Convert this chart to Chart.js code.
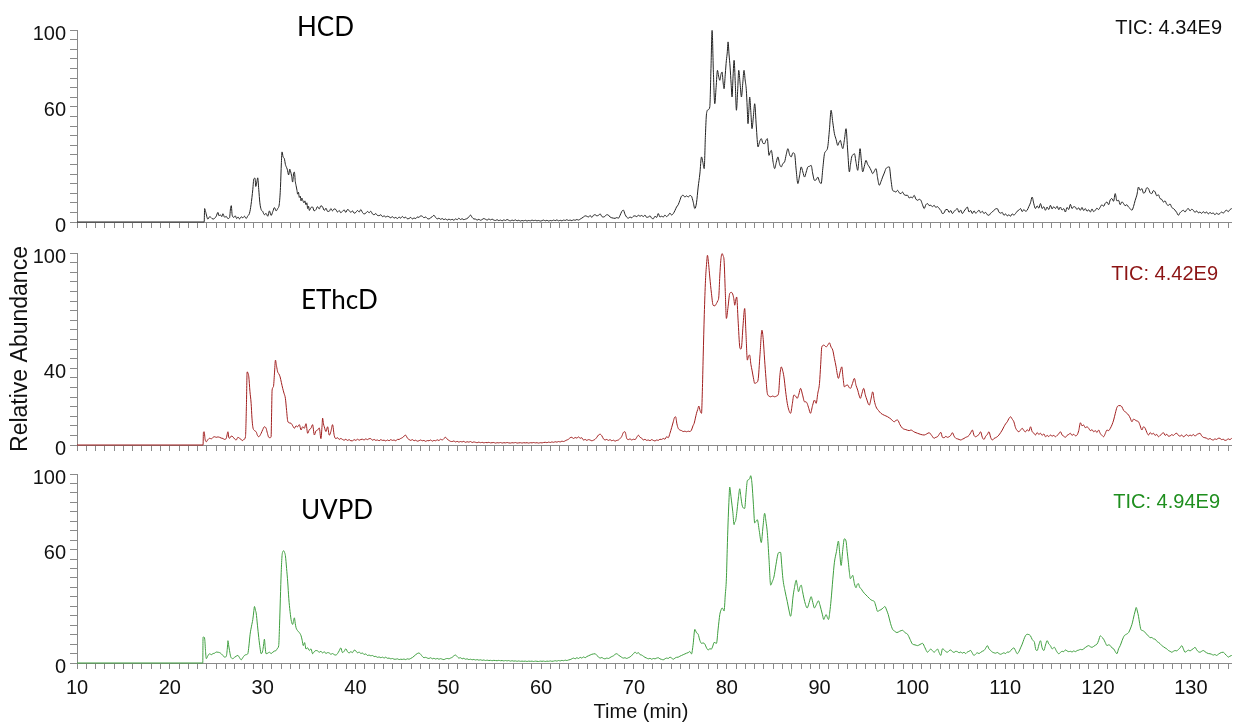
<!DOCTYPE html>
<html>
<head>
<meta charset="utf-8">
<title>Total ion chromatograms: HCD, EThcD, UVPD</title>
<script src="https://cdn.jsdelivr.net/npm/chart.js@4.4.1/dist/chart.umd.min.js"></script>
<style>
  html, body { margin: 0; padding: 0; background: #ffffff; }
  #wrap { position: relative; width: 1235px; height: 722px; overflow: hidden; }
  #wrap canvas { position: absolute; left: 0; }
</style>
</head>
<body>
<div id="wrap">
  <canvas id="hcdChart" width="1235" height="240" style="top:0px"></canvas>
  <canvas id="ethcdChart" width="1235" height="240" style="top:230px"></canvas>
  <canvas id="uvpdChart" width="1235" height="262" style="top:460px"></canvas>
</div>
<script>
// Retention time range (min)
const timeMin = 10;
const timeMax = 134.4;

// Labelled ticks
const timeTickLabels = [10, 20, 30, 40, 50, 60, 70, 80, 90, 100, 110, 120, 130];
const hcdAbundanceLabels = [0, 60, 100];
const ethcdAbundanceLabels = [0, 40, 100];
const uvpdAbundanceLabels = [0, 60, 100];

// Panel captions and total ion current
const fragmentationNames = ['HCD', 'EThcD', 'UVPD'];
const ticValues = ['TIC: 4.34E9', 'TIC: 4.42E9', 'TIC: 4.94E9'];

// HCD trace: [time (min), relative abundance (%)]
const hcdTrace = [
[10,0],[23.70,0],[23.75,7.0],[23.85,5.5],[24.10,1.5],[24.30,2.8],[24.47,2.2],[24.65,1.5],[24.82,1.9],[25.00,3.0],
[25.18,5.0],[25.30,3.2],[25.43,3.8],[25.60,2.8],[25.72,4.3],[25.90,2.5],[26.08,2.9],[26.25,1.8],[26.43,2.2],[26.55,7.5],
[26.62,8.5],[26.72,3.5],[26.90,2.4],[27.05,3.2],[27.20,1.8],[27.35,2.6],[27.51,1.6],[27.70,2.7],[27.86,2.2],[28.05,3.0],
[28.22,1.8],[28.40,3.2],[28.58,4.5],[28.75,9.0],[28.94,17.0],[29.05,22.5],[29.18,22.8],[29.26,18.5],[29.38,21.0],[29.47,23.0],
[29.58,17.0],[29.70,10.0],[29.84,6.5],[30.01,5.5],[30.18,3.8],[30.37,4.5],[30.55,3.0],[30.73,5.8],[30.91,3.4],[31.10,5.5],
[31.27,7.5],[31.45,5.8],[31.62,7.0],[31.80,9.6],[31.92,18.0],[32.02,31.0],[32.09,36.5],[32.20,34.0],[32.34,33.0],[32.45,30.0],
[32.52,29.0],[32.65,27.5],[32.80,24.5],[32.92,27.5],[33.00,26.5],[33.12,24.0],[33.23,20.8],[33.34,25.5],[33.42,26.0],[33.52,21.0],
[33.60,19.0],[33.70,16.5],[33.77,14.5],[33.86,15.5],[33.95,12.8],[34.05,13.5],[34.14,11.0],[34.22,12.5],[34.31,11.5],[34.45,10.0],
[34.55,11.0],[34.67,9.0],[34.76,10.0],[34.85,7.0],[34.95,8.2],[35.03,6.0],[35.20,7.5],[35.38,7.8],[35.55,5.8],[35.75,6.5],
[35.90,8.0],[36.10,6.8],[36.28,8.5],[36.46,7.8],[36.65,6.0],[36.82,7.2],[37.00,5.5],[37.18,5.6],[37.35,7.0],[37.52,5.8],
[37.70,6.8],[37.89,6.5],[38.05,5.2],[38.25,6.0],[38.42,4.8],[38.60,5.6],[38.78,6.3],[38.96,5.0],[39.14,6.5],[39.32,6.0],
[39.50,5.0],[39.68,5.8],[39.86,4.6],[40.04,5.0],[40.22,6.0],[40.40,5.2],[40.58,6.5],[40.75,5.0],[40.93,4.2],[41.11,4.6],
[41.30,5.5],[41.47,4.8],[41.65,5.6],[41.83,4.2],[42.01,3.8],[42.19,4.4],[42.37,3.4],[42.55,3.3],[42.73,3.8],[42.91,2.8],
[43.09,3.2],[43.26,2.6],[43.44,3.0],[43.62,2.7],[43.80,2.2],[43.98,2.8],[44.16,2.0],[44.34,2.4],[44.52,1.8],[44.70,2.6],
[44.87,2.0],[45.05,2.9],[45.23,2.1],[45.41,2.5],[45.59,1.7],[45.77,1.8],[45.95,2.4],[46.13,1.6],[46.31,2.1],[46.49,1.8],
[46.66,2.6],[46.84,2.4],[47.02,3.2],[47.20,3.0],[47.38,2.2],[47.56,2.6],[47.74,1.8],[47.92,1.6],[48.10,2.2],[48.28,2.8],
[48.45,3.5],[48.63,2.4],[48.81,1.6],[48.99,2.0],[49.17,1.4],[49.35,1.8],[49.53,1.2],[49.71,1.6],[49.89,1.0],[50.07,1.5],
[50.24,1.1],[50.42,1.4],[50.60,0.9],[50.78,1.6],[50.96,1.2],[51.14,2.0],[51.31,1.3],[51.49,1.7],[51.67,1.2],[51.85,1.5],
[52.03,1.8],[52.21,2.6],[52.40,3.6],[52.57,2.4],[52.75,1.6],[52.93,1.5],[53.11,1.0],[53.29,1.4],[53.47,0.9],[53.65,1.3],
[53.83,1.8],[54.01,1.4],[54.19,1.0],[54.37,1.6],[54.55,1.1],[54.72,1.5],[54.90,1.0],[55.08,0.8],[55.26,1.2],[55.44,0.7],
[55.62,1.0],[55.80,0.6],[55.98,1.1],[56.16,0.8],[56.33,1.3],[56.51,0.9],[56.69,0.6],[56.87,1.0],[57.05,0.7],[57.23,1.1],
[57.41,0.6],[57.59,0.9],[57.77,0.5],[57.94,0.8],[58.12,0.6],[58.30,0.9],[58.48,0.5],[58.66,0.8],[58.84,0.6],[59.02,1.0],
[59.20,0.7],[59.38,0.9],[59.55,0.6],[59.73,0.8],[59.91,0.5],[60.09,0.7],[60.27,1.0],[60.45,0.6],[60.63,0.9],[60.81,0.5],
[60.99,0.8],[61.16,0.6],[61.34,1.0],[61.52,0.7],[61.70,1.1],[61.88,0.6],[62.06,0.9],[62.24,0.6],[62.42,1.0],[62.60,0.8],
[62.77,1.2],[62.95,0.8],[63.13,1.0],[63.31,0.7],[63.49,1.1],[63.67,0.9],[63.85,1.3],[64.03,1.0],[64.21,1.5],[64.38,2.0],
[64.56,2.6],[64.75,3.2],[64.92,3.0],[65.10,2.6],[65.28,3.4],[65.46,2.4],[65.64,3.5],[65.82,3.8],[66.00,3.2],[66.18,3.5],
[66.36,4.2],[66.54,2.9],[66.72,2.6],[66.89,3.0],[67.07,3.8],[67.25,3.6],[67.43,2.6],[67.61,2.2],[67.79,2.0],[67.97,1.9],
[68.15,2.3],[68.33,2.0],[68.51,3.5],[68.69,5.5],[68.86,6.2],[69.04,4.0],[69.22,2.5],[69.40,2.0],[69.58,2.6],[69.76,2.2],
[69.94,3.0],[70.12,3.2],[70.30,2.8],[70.48,3.5],[70.66,3.0],[70.83,3.4],[71.01,2.8],[71.19,3.6],[71.37,2.4],[71.55,2.6],
[71.73,3.2],[71.91,2.0],[72.09,1.7],[72.27,3.0],[72.45,2.4],[72.62,4.4],[72.80,2.6],[72.98,3.0],[73.16,2.6],[73.34,3.6],
[73.52,2.8],[73.70,3.5],[73.88,4.6],[74.06,3.6],[74.24,4.4],[74.42,6.0],[74.59,7.8],[74.77,9.0],[74.95,11.3],[75.13,13.5],
[75.31,13.9],[75.49,13.0],[75.67,13.6],[75.85,13.0],[76.02,13.8],[76.20,13.4],[76.38,10.5],[76.56,7.0],[76.74,10.0],[76.92,18.2],
[77.10,25.0],[77.28,33.9],[77.43,31.0],[77.57,27.8],[77.70,45.0],[77.82,56.4],[78.00,58.5],[78.17,59.9],[78.30,80.0],[78.42,99.8],
[78.56,78.0],[78.71,61.6],[78.85,70.0],[79.00,79.0],[79.12,76.0],[79.25,73.8],[79.38,77.0],[79.50,78.1],[79.60,73.0],[79.71,69.4],
[79.84,77.0],[79.96,84.2],[80.05,88.0],[80.14,93.8],[80.25,87.0],[80.36,80.7],[80.47,72.0],[80.57,65.1],[80.68,76.0],[80.79,84.2],
[80.92,72.0],[81.04,58.2],[81.17,68.0],[81.29,79.0],[81.44,72.0],[81.58,65.1],[81.72,72.0],[81.86,79.0],[81.98,74.0],[82.11,68.6],
[82.20,60.0],[82.29,51.2],[82.38,58.0],[82.47,65.1],[82.60,57.0],[82.72,48.6],[82.87,55.0],[83.01,61.6],[83.18,50.0],[83.37,39.1],
[83.55,42.0],[83.72,43.4],[83.90,41.0],[84.08,40.8],[84.22,42.5],[84.37,43.4],[84.55,34.7],[84.68,36.5],[84.80,37.3],[85.00,31.0],
[85.16,27.8],[85.33,31.0],[85.51,33.9],[85.70,30.0],[85.87,28.7],[86.05,30.5],[86.23,31.3],[86.40,35.0],[86.59,38.2],[86.77,35.0],
[86.95,33.9],[87.12,36.0],[87.30,35.6],[87.48,27.0],[87.66,20.0],[87.84,24.0],[88.02,28.7],[88.20,26.0],[88.38,23.4],[88.56,26.0],
[88.74,28.7],[88.91,29.0],[89.09,29.5],[89.27,25.0],[89.45,21.7],[89.63,22.0],[89.81,23.4],[89.99,21.0],[90.17,20.0],[90.35,28.0],
[90.53,35.6],[90.70,37.0],[90.88,39.1],[91.06,48.0],[91.24,58.2],[91.42,52.0],[91.60,46.0],[91.78,43.0],[91.96,39.9],[92.10,41.5],
[92.24,42.5],[92.37,40.0],[92.50,38.2],[92.68,43.0],[92.85,48.6],[93.03,37.0],[93.21,26.1],[93.33,30.0],[93.46,33.9],[93.60,35.0],
[93.75,35.6],[93.93,31.0],[94.11,26.9],[94.23,32.0],[94.36,38.2],[94.50,32.0],[94.64,26.1],[94.82,29.0],[95.00,32.1],[95.18,30.0],
[95.36,28.7],[95.54,27.0],[95.72,25.2],[95.90,26.5],[96.08,27.8],[96.25,23.0],[96.43,19.1],[96.61,21.0],[96.79,23.4],[96.97,25.5],
[97.15,27.8],[97.33,28.5],[97.51,28.7],[97.69,22.0],[97.87,16.5],[98.05,16.0],[98.22,15.6],[98.40,16.5],[98.58,15.2],[98.76,14.8],
[98.94,15.6],[99.12,14.2],[99.30,13.9],[99.48,13.9],[99.66,12.5],[99.84,13.0],[100.01,12.6],[100.19,13.9],[100.37,12.0],[100.55,11.3],
[100.73,11.8],[100.91,11.3],[101.09,9.0],[101.27,7.0],[101.45,9.0],[101.63,9.6],[101.80,8.6],[101.98,8.7],[102.16,8.0],[102.34,8.7],
[102.52,7.6],[102.70,8.0],[102.88,7.0],[103.06,6.1],[103.23,4.4],[103.42,4.8],[103.60,6.5],[103.78,6.5],[103.95,5.0],[104.13,6.0],
[104.31,4.4],[104.49,5.5],[104.67,6.4],[104.84,7.0],[105.02,5.0],[105.20,6.2],[105.38,4.4],[105.56,5.6],[105.74,6.8],[105.92,7.8],
[106.10,5.2],[106.28,6.0],[106.46,4.4],[106.64,5.8],[106.82,4.6],[106.99,5.2],[107.17,6.2],[107.35,4.8],[107.53,5.6],[107.71,4.4],
[107.89,5.0],[108.07,3.8],[108.25,3.5],[108.43,4.6],[108.61,5.2],[108.78,6.1],[108.96,6.8],[109.14,7.0],[109.32,5.2],[109.50,4.6],
[109.68,5.0],[109.86,3.5],[110.04,4.2],[110.22,3.2],[110.40,3.8],[110.57,3.0],[110.75,4.2],[110.93,3.6],[111.11,4.4],[111.29,5.6],
[111.47,6.2],[111.65,7.0],[111.83,5.4],[112.01,6.5],[112.19,5.6],[112.36,6.1],[112.54,8.0],[112.72,10.0],[112.90,13.0],[113.08,9.5],
[113.26,7.0],[113.44,8.4],[113.62,7.2],[113.80,9.6],[113.98,7.0],[114.15,8.0],[114.33,6.1],[114.51,7.8],[114.69,6.5],[114.87,8.7],
[115.05,6.8],[115.23,8.0],[115.41,7.0],[115.59,8.2],[115.77,6.4],[115.94,7.8],[116.12,6.2],[116.30,7.0],[116.48,5.2],[116.66,7.6],
[116.84,6.5],[117.02,9.2],[117.20,7.0],[117.38,8.0],[117.55,7.8],[117.73,6.5],[117.91,7.4],[118.09,6.1],[118.27,7.6],[118.45,6.0],
[118.63,7.0],[118.81,5.6],[118.99,6.4],[119.17,5.2],[119.35,6.8],[119.52,5.4],[119.70,6.1],[119.88,7.2],[120.06,6.5],[120.24,7.8],
[120.42,9.0],[120.60,8.2],[120.78,9.8],[120.96,10.4],[121.14,9.0],[121.31,11.5],[121.49,12.2],[121.67,10.8],[121.85,14.8],[122.03,11.0],
[122.21,11.3],[122.39,9.0],[122.57,10.5],[122.75,9.6],[122.92,8.5],[123.10,9.0],[123.28,7.8],[123.46,7.0],[123.64,6.1],[123.82,8.0],
[124.00,11.3],[124.18,14.0],[124.36,18.2],[124.54,16.5],[124.72,17.4],[124.90,15.0],[125.07,15.6],[125.25,17.8],[125.43,17.4],[125.61,15.2],
[125.79,14.8],[125.97,16.4],[126.15,15.6],[126.33,13.6],[126.50,14.2],[126.68,12.2],[126.86,11.8],[127.04,10.4],[127.22,11.0],[127.40,9.2],
[127.58,8.7],[127.76,9.4],[127.94,7.6],[128.12,7.0],[128.29,6.2],[128.47,5.0],[128.65,3.5],[128.83,4.8],[129.01,5.6],[129.19,6.1],
[129.37,5.2],[129.55,6.4],[129.73,7.0],[129.91,5.8],[130.09,6.6],[130.27,6.1],[130.45,5.0],[130.62,5.8],[130.80,4.8],[130.98,5.2],
[131.16,4.5],[131.34,5.4],[131.52,4.6],[131.70,5.2],[131.88,4.2],[132.06,5.0],[132.23,4.4],[132.41,4.7],[132.59,3.8],[132.77,4.6],
[132.95,4.0],[133.13,4.4],[133.31,5.2],[133.49,4.6],[133.67,5.6],[133.85,6.1],[134.03,5.4],[134.20,6.4],[134.40,7.0]
];

// EThcD trace: [time (min), relative abundance (%)]
const ethcdTrace = [
[10,0],[23.58,0],[23.62,6.5],[23.70,6.9],[23.80,3.0],[23.93,1.7],[24.10,2.8],[24.29,3.5],[24.47,3.2],[24.65,4.0],
[24.83,4.3],[25.00,4.0],[25.18,4.2],[25.36,4.0],[25.54,3.6],[25.72,3.4],[25.90,2.9],[26.08,3.5],[26.20,6.0],[26.26,6.9],
[26.35,4.0],[26.43,3.5],[26.61,4.6],[26.79,4.3],[26.97,3.2],[27.15,2.6],[27.33,4.0],[27.51,3.5],[27.69,2.8],[27.86,2.3],
[28.00,3.0],[28.15,4.3],[28.25,20.0],[28.33,38.1],[28.42,37.5],[28.51,35.5],[28.63,28.0],[28.76,21.7],[28.85,14.0],[28.94,9.5],
[29.12,7.5],[29.30,6.9],[29.44,5.0],[29.58,4.3],[29.72,5.0],[29.84,6.1],[30.01,8.0],[30.19,9.5],[30.37,8.7],[30.52,6.0],
[30.66,4.0],[30.80,3.8],[30.91,4.3],[30.96,15.0],[31.02,28.6],[31.16,30.3],[31.27,37.0],[31.38,44.2],[31.50,41.0],[31.62,38.1],
[31.75,37.0],[31.88,35.5],[32.02,32.5],[32.16,29.5],[32.30,27.0],[32.45,24.3],[32.58,18.0],[32.70,12.5],[32.88,11.5],[33.06,11.3],
[33.24,10.0],[33.42,8.7],[33.60,10.0],[33.77,9.5],[33.95,10.6],[34.14,7.8],[34.31,9.5],[34.49,8.7],[34.67,11.1],[34.85,6.1],
[35.03,8.0],[35.21,8.7],[35.38,10.6],[35.57,5.2],[35.74,7.3],[35.92,7.8],[36.10,8.9],[36.28,3.3],[36.40,10.0],[36.46,14.0],
[36.55,11.0],[36.64,9.5],[36.82,7.0],[37.00,9.5],[37.18,5.1],[37.35,7.0],[37.53,10.6],[37.71,5.0],[37.89,3.3],[38.07,3.8],
[38.25,2.9],[38.42,3.4],[38.60,2.9],[38.78,2.5],[38.96,3.0],[39.14,2.4],[39.32,2.8],[39.50,2.2],[39.68,2.2],[39.86,2.8],
[40.04,2.4],[40.22,3.0],[40.40,2.5],[40.58,2.9],[40.75,3.0],[40.93,2.6],[41.11,3.2],[41.29,2.8],[41.47,3.3],[41.65,3.3],
[41.83,2.5],[42.01,2.9],[42.19,2.4],[42.37,2.6],[42.55,2.2],[42.73,2.8],[42.91,2.4],[43.09,2.5],[43.26,2.1],[43.44,2.6],
[43.62,2.2],[43.80,2.8],[43.98,2.4],[44.16,2.6],[44.34,2.2],[44.52,2.9],[44.70,2.9],[44.87,3.4],[45.05,3.8],[45.23,4.6],
[45.41,5.1],[45.59,3.6],[45.77,2.9],[45.95,2.4],[46.13,2.8],[46.31,2.2],[46.49,2.5],[46.66,2.0],[46.84,2.2],[47.02,2.6],
[47.20,2.2],[47.38,2.4],[47.56,1.9],[47.74,2.3],[47.92,2.2],[48.10,2.6],[48.28,2.0],[48.45,2.4],[48.63,2.2],[48.81,2.7],
[48.99,2.3],[49.17,3.0],[49.35,2.6],[49.53,3.4],[49.71,4.0],[49.89,3.0],[50.07,2.4],[50.24,1.9],[50.42,1.8],[50.60,2.1],
[50.78,1.6],[50.96,1.9],[51.14,1.5],[51.31,1.8],[51.49,1.6],[51.67,1.9],[51.85,1.4],[52.03,1.7],[52.21,1.5],[52.40,1.8],
[52.57,1.3],[52.75,1.6],[52.93,1.4],[53.11,1.2],[53.29,1.5],[53.47,1.2],[53.65,1.4],[53.83,1.1],[54.01,1.3],[54.19,1.2],
[54.37,1.4],[54.55,1.1],[54.72,1.2],[54.90,1.3],[55.08,1.0],[55.26,1.2],[55.44,1.1],[55.62,1.3],[55.80,1.0],[55.98,1.2],
[56.16,1.1],[56.33,1.3],[56.51,1.1],[56.69,1.0],[56.87,1.2],[57.05,1.1],[57.23,1.3],[57.41,1.0],[57.59,1.1],[57.77,1.2],
[57.94,1.0],[58.12,1.2],[58.30,1.1],[58.48,1.2],[58.66,1.0],[58.84,1.2],[59.02,1.1],[59.20,1.3],[59.38,1.1],[59.55,1.2],
[59.73,1.0],[59.91,1.2],[60.09,1.1],[60.27,1.3],[60.45,1.4],[60.63,1.2],[60.81,1.5],[60.99,1.3],[61.16,1.6],[61.34,1.4],
[61.52,1.7],[61.70,1.5],[61.88,1.8],[62.06,1.6],[62.24,2.0],[62.42,1.8],[62.60,2.2],[62.77,2.6],[62.95,3.0],[63.13,3.8],
[63.31,4.0],[63.49,3.4],[63.67,3.9],[63.85,3.6],[64.03,4.2],[64.21,3.5],[64.38,3.8],[64.56,2.6],[64.75,2.9],[64.92,2.4],
[65.10,2.8],[65.28,2.6],[65.46,2.2],[65.64,2.5],[65.82,3.0],[66.00,4.0],[66.18,5.2],[66.36,5.6],[66.54,4.8],[66.72,3.2],
[66.89,2.6],[67.07,2.9],[67.25,2.4],[67.43,2.8],[67.61,2.2],[67.79,2.5],[67.97,2.0],[68.15,2.4],[68.33,2.6],[68.51,3.4],
[68.69,4.5],[68.86,6.5],[69.04,6.9],[69.22,3.5],[69.40,2.8],[69.58,3.2],[69.76,2.6],[69.94,3.0],[70.12,2.8],[70.30,4.0],
[70.48,5.1],[70.66,4.0],[70.83,3.6],[71.01,2.6],[71.19,3.0],[71.37,2.4],[71.55,2.6],[71.73,2.2],[71.91,2.8],[72.09,2.4],
[72.27,2.1],[72.45,2.6],[72.62,2.4],[72.80,3.0],[72.98,2.9],[73.16,3.4],[73.34,3.0],[73.52,4.3],[73.70,3.8],[73.88,6.1],
[74.06,9.0],[74.24,12.1],[74.36,14.2],[74.49,14.7],[74.63,11.0],[74.77,8.7],[74.95,7.8],[75.13,7.5],[75.31,7.0],[75.49,7.2],
[75.67,6.9],[75.85,7.2],[76.02,7.0],[76.20,7.8],[76.36,10.0],[76.49,11.3],[76.62,14.0],[76.74,16.5],[76.87,18.5],[76.99,20.3],
[77.12,18.0],[77.28,16.5],[77.37,28.0],[77.46,45.9],[77.58,68.0],[77.71,85.8],[77.82,94.0],[77.92,98.8],[78.05,94.0],[78.17,87.5],
[78.35,79.0],[78.53,72.8],[78.71,72.5],[78.89,73.7],[79.02,75.0],[79.14,77.1],[79.25,88.0],[79.36,96.2],[79.50,99.7],[79.61,98.5],
[79.71,96.2],[79.84,80.0],[79.96,65.9],[80.14,72.0],[80.32,78.9],[80.50,79.5],[80.68,78.0],[80.78,75.5],[80.86,72.8],[80.97,75.5],
[81.07,77.1],[81.22,65.0],[81.40,51.1],[81.50,50.0],[81.57,50.3],[81.75,62.0],[81.93,71.1],[82.07,58.0],[82.22,44.2],[82.35,46.5],
[82.47,46.8],[82.60,42.0],[82.72,39.0],[82.87,35.0],[83.01,32.1],[83.20,32.5],[83.37,33.8],[83.58,47.0],[83.79,59.8],[83.93,55.0],
[84.08,44.2],[84.22,35.0],[84.37,26.9],[84.55,25.5],[84.73,25.1],[84.95,25.5],[85.16,25.1],[85.37,25.5],[85.58,26.9],[85.72,36.0],
[85.87,40.7],[86.01,39.0],[86.16,35.5],[86.34,28.0],[86.52,21.7],[86.70,18.0],[86.88,16.5],[87.05,21.0],[87.23,26.0],[87.41,25.5],
[87.59,24.3],[87.77,26.5],[87.95,29.5],[88.17,26.0],[88.38,22.5],[88.52,22.5],[88.66,21.7],[88.84,19.0],[89.02,16.5],[89.24,20.5],
[89.45,23.4],[89.63,21.7],[89.81,27.0],[89.99,32.1],[90.12,42.0],[90.24,51.1],[90.47,52.0],[90.71,51.1],[90.88,52.0],[91.06,53.2],
[91.24,51.0],[91.42,49.4],[91.60,45.0],[91.78,40.7],[91.90,37.0],[92.03,34.7],[92.21,38.0],[92.39,40.7],[92.53,35.0],[92.67,30.3],
[92.85,31.0],[93.03,31.2],[93.18,30.0],[93.32,29.5],[93.54,32.0],[93.75,34.7],[93.93,31.0],[94.11,28.6],[94.25,26.0],[94.39,24.3],
[94.57,27.0],[94.75,29.5],[94.93,26.0],[95.11,23.4],[95.24,21.5],[95.36,20.8],[95.54,24.0],[95.72,27.7],[95.90,23.0],[96.08,19.9],
[96.34,18.0],[96.61,16.5],[96.97,15.5],[97.33,14.7],[97.69,13.5],[98.05,12.1],[98.22,12.8],[98.40,13.0],[98.67,10.5],[98.94,8.7],
[99.30,8.0],[99.66,7.5],[99.84,7.8],[100.19,6.8],[100.55,6.1],[100.91,5.5],[101.27,5.2],[101.55,5.8],[101.80,6.4],[102.07,5.0],
[102.34,3.5],[102.52,4.0],[102.70,4.3],[102.88,5.5],[103.06,6.6],[103.24,4.0],[103.42,3.8],[103.60,4.5],[103.78,4.0],[103.95,4.3],
[104.13,5.0],[104.31,6.4],[104.49,4.6],[104.67,3.5],[104.85,3.2],[105.03,2.9],[105.21,2.6],[105.38,3.0],[105.56,3.4],[105.74,4.0],
[105.92,4.3],[106.10,5.0],[106.28,6.4],[106.46,7.8],[106.64,5.0],[106.82,4.3],[106.99,4.8],[107.17,5.5],[107.35,6.9],[107.53,4.0],
[107.71,2.9],[107.89,4.5],[108.07,5.5],[108.25,6.9],[108.43,4.0],[108.61,2.6],[108.79,3.4],[108.96,3.8],[109.14,4.3],[109.32,5.2],
[109.50,6.4],[109.68,7.8],[109.86,9.5],[110.04,11.0],[110.22,12.1],[110.40,13.8],[110.58,14.7],[110.75,13.5],[110.93,12.1],[111.11,9.0],
[111.29,7.5],[111.47,6.9],[111.65,7.8],[111.83,8.7],[112.01,7.5],[112.19,6.9],[112.37,8.0],[112.55,7.2],[112.73,9.5],[112.90,7.0],
[113.08,6.2],[113.26,5.2],[113.44,6.5],[113.62,5.5],[113.80,6.1],[113.98,5.0],[114.16,5.8],[114.34,4.3],[114.52,5.0],[114.69,4.4],
[114.87,5.2],[115.05,4.6],[115.23,5.0],[115.41,4.3],[115.59,5.0],[115.77,5.8],[115.95,6.9],[116.13,5.2],[116.30,4.6],[116.48,4.0],
[116.66,5.0],[116.84,5.5],[117.02,6.1],[117.20,5.0],[117.38,5.6],[117.56,4.8],[117.74,5.2],[117.92,7.5],[118.10,11.6],[118.27,10.0],
[118.45,10.4],[118.63,9.0],[118.81,9.5],[118.99,8.7],[119.17,7.5],[119.35,8.0],[119.53,6.9],[119.71,7.5],[119.88,6.5],[120.06,7.8],
[120.24,6.0],[120.42,5.0],[120.60,4.3],[120.78,6.0],[120.96,7.8],[121.14,7.5],[121.32,8.7],[121.50,10.5],[121.68,13.0],[121.86,16.5],
[122.03,19.5],[122.21,20.5],[122.39,20.5],[122.57,19.9],[122.75,18.0],[122.93,17.3],[123.11,16.5],[123.29,15.6],[123.47,14.0],[123.65,12.1],
[123.83,13.5],[124.00,13.0],[124.18,12.5],[124.36,12.1],[124.54,10.0],[124.72,7.8],[124.90,9.5],[125.08,8.7],[125.26,6.5],[125.44,5.2],
[125.62,6.5],[125.79,5.6],[125.97,6.1],[126.15,5.0],[126.33,5.5],[126.51,4.3],[126.69,5.0],[126.87,5.8],[127.05,6.4],[127.23,5.0],
[127.41,5.6],[127.58,4.6],[127.76,4.7],[127.94,5.4],[128.12,5.0],[128.30,5.8],[128.48,6.1],[128.66,5.0],[128.84,4.6],[129.01,5.2],
[129.19,4.3],[129.37,4.8],[129.55,5.4],[129.73,4.6],[129.91,5.2],[130.09,4.8],[130.27,5.5],[130.45,4.6],[130.62,5.4],[130.80,5.8],
[130.98,6.1],[131.16,4.8],[131.34,4.0],[131.52,3.8],[131.70,3.5],[131.88,3.0],[132.06,3.4],[132.24,2.8],[132.42,2.6],[132.59,3.2],
[132.77,2.9],[132.95,3.5],[133.13,3.5],[133.31,2.8],[133.49,3.0],[133.67,2.4],[133.85,2.6],[134.03,3.2],[134.20,2.8],[134.40,3.5]
];

// UVPD trace: [time (min), relative abundance (%)]
const uvpdTrace = [
[10,0],[23.55,0],[23.58,13.5],[23.66,13.8],[23.76,12.6],[23.85,6.0],[23.93,2.3],[24.10,3.8],[24.29,4.9],[24.47,4.4],
[24.65,5.0],[24.83,5.2],[25.00,5.8],[25.18,5.7],[25.36,5.5],[25.54,4.9],[25.72,4.0],[25.90,3.1],[26.08,3.5],[26.20,8.0],
[26.26,11.8],[26.35,9.0],[26.43,6.6],[26.55,3.5],[26.61,2.8],[26.79,2.3],[26.97,3.0],[27.15,3.6],[27.33,4.0],[27.51,2.8],
[27.69,1.7],[27.86,2.8],[28.04,4.0],[28.22,4.4],[28.40,4.9],[28.52,9.0],[28.65,15.2],[28.80,19.5],[28.94,23.0],[29.04,27.0],
[29.12,29.9],[29.22,28.0],[29.30,26.5],[29.44,20.0],[29.58,13.5],[29.72,8.0],[29.84,4.9],[30.01,6.6],[30.10,9.5],[30.19,12.6],
[30.28,8.0],[30.37,4.9],[30.55,5.2],[30.73,5.7],[30.91,5.0],[31.09,5.7],[31.27,6.3],[31.45,6.6],[31.60,7.8],[31.73,9.2],
[31.82,20.0],[31.91,34.3],[32.00,48.0],[32.09,56.8],[32.18,59.0],[32.27,59.4],[32.36,58.5],[32.45,56.8],[32.58,50.0],[32.70,42.9],
[32.82,34.0],[32.95,27.3],[33.10,22.0],[33.24,20.4],[33.33,22.5],[33.42,23.9],[33.51,21.0],[33.60,18.7],[33.78,17.0],[33.95,16.1],
[34.14,14.4],[34.26,12.0],[34.38,9.2],[34.52,10.8],[34.67,7.4],[34.85,8.0],[35.03,6.6],[35.21,7.5],[35.38,4.9],[35.56,6.0],
[35.74,6.6],[35.92,6.4],[36.10,5.7],[36.28,6.2],[36.46,5.3],[36.64,6.0],[36.82,5.0],[37.00,5.5],[37.18,5.3],[37.35,4.6],
[37.53,5.0],[37.71,4.4],[37.89,4.2],[38.07,5.0],[38.25,6.5],[38.42,8.0],[38.60,5.5],[38.78,6.2],[38.96,7.5],[39.14,6.0],
[39.32,5.3],[39.50,6.0],[39.68,5.5],[39.86,6.8],[40.04,6.4],[40.22,5.4],[40.40,5.8],[40.58,5.0],[40.75,5.3],[40.93,4.5],
[41.11,4.8],[41.29,4.0],[41.47,4.2],[41.65,3.8],[41.83,4.0],[42.01,3.4],[42.19,3.5],[42.37,3.0],[42.55,3.2],[42.73,2.8],
[42.91,3.1],[43.09,2.6],[43.26,3.1],[43.44,2.5],[43.62,2.6],[43.80,2.2],[43.98,2.4],[44.16,2.0],[44.34,2.0],[44.52,2.2],
[44.70,1.8],[44.87,2.0],[45.05,1.9],[45.23,2.1],[45.41,1.8],[45.59,2.2],[45.77,2.0],[45.95,2.4],[46.13,2.9],[46.31,3.6],
[46.49,4.4],[46.66,5.0],[46.84,5.3],[47.02,4.6],[47.20,3.5],[47.38,2.8],[47.56,3.0],[47.74,2.6],[47.92,2.4],[48.10,2.8],
[48.28,2.2],[48.45,2.5],[48.63,2.1],[48.81,2.4],[48.99,2.0],[49.17,2.3],[49.35,2.0],[49.53,1.8],[49.71,2.2],[49.89,2.4],
[50.07,2.2],[50.24,2.6],[50.42,3.0],[50.60,3.8],[50.78,4.2],[50.96,3.4],[51.14,2.6],[51.31,2.8],[51.49,2.2],[51.67,2.5],
[51.85,2.0],[52.03,2.2],[52.21,1.8],[52.40,2.0],[52.57,1.7],[52.75,1.9],[52.93,1.6],[53.11,1.8],[53.29,1.5],[53.47,1.7],
[53.65,1.4],[53.83,1.6],[54.01,1.3],[54.19,1.5],[54.37,1.3],[54.55,1.4],[54.72,1.2],[54.90,1.4],[55.08,1.3],[55.26,1.2],
[55.44,1.4],[55.62,1.2],[55.80,1.3],[55.98,1.1],[56.16,1.3],[56.33,1.1],[56.51,1.3],[56.69,1.0],[56.87,1.2],[57.05,1.0],
[57.23,1.1],[57.41,0.9],[57.59,1.1],[57.77,0.9],[57.94,1.0],[58.12,0.9],[58.30,1.0],[58.48,0.8],[58.66,1.0],[58.84,0.9],
[59.02,1.0],[59.20,0.8],[59.38,1.0],[59.55,0.9],[59.73,0.8],[59.91,1.0],[60.09,0.9],[60.27,1.0],[60.45,0.8],[60.63,1.0],
[60.81,0.9],[60.99,1.1],[61.16,0.9],[61.34,1.0],[61.52,1.2],[61.70,1.0],[61.88,1.3],[62.06,1.1],[62.24,1.4],[62.42,1.2],
[62.60,1.5],[62.77,1.3],[62.95,1.6],[63.13,1.8],[63.31,2.2],[63.49,2.6],[63.67,2.2],[63.85,2.8],[64.03,2.4],[64.21,3.0],
[64.38,2.6],[64.57,3.2],[64.75,2.8],[64.92,3.4],[65.10,3.8],[65.28,4.2],[65.46,4.6],[65.64,4.8],[65.82,4.9],[66.00,4.0],
[66.18,3.2],[66.36,2.6],[66.54,2.9],[66.72,2.4],[66.89,2.2],[67.07,2.6],[67.25,2.4],[67.43,2.9],[67.61,3.4],[67.79,3.8],
[67.97,4.6],[68.15,4.9],[68.33,4.2],[68.51,3.6],[68.69,3.0],[68.86,2.6],[69.04,2.8],[69.22,2.4],[69.40,2.8],[69.58,3.2],
[69.76,4.0],[69.94,4.8],[70.12,5.8],[70.30,5.0],[70.48,5.5],[70.66,4.4],[70.83,4.2],[71.01,3.6],[71.19,3.0],[71.37,2.6],
[71.55,2.2],[71.73,2.5],[71.91,2.0],[72.09,2.4],[72.27,2.2],[72.45,2.6],[72.62,2.8],[72.80,2.2],[72.98,1.9],[73.16,1.7],
[73.34,2.2],[73.52,2.6],[73.70,2.4],[73.88,3.1],[74.06,2.6],[74.24,2.0],[74.42,2.6],[74.59,3.0],[74.77,3.1],[74.95,3.6],
[75.13,4.0],[75.31,4.4],[75.49,4.8],[75.67,5.2],[75.85,5.5],[76.02,6.1],[76.20,4.8],[76.38,10.0],[76.56,17.8],[76.74,16.0],
[76.92,15.2],[77.10,12.0],[77.28,10.4],[77.46,10.6],[77.64,10.0],[77.82,8.0],[78.00,6.9],[78.17,7.5],[78.35,7.4],[78.50,9.0],
[78.64,10.9],[78.89,10.4],[79.07,18.0],[79.25,25.6],[79.38,28.0],[79.50,29.1],[79.61,28.5],[79.71,27.5],[79.84,36.0],[79.96,44.6],
[80.05,60.0],[80.14,74.1],[80.23,85.0],[80.32,93.1],[80.41,90.0],[80.50,86.2],[80.65,80.0],[80.79,73.2],[80.86,74.5],[80.93,74.9],
[81.04,78.0],[81.15,82.7],[81.27,88.0],[81.40,92.2],[81.52,88.0],[81.65,83.6],[81.79,82.0],[81.93,81.8],[82.08,90.0],[82.22,96.5],
[82.35,97.0],[82.47,97.5],[82.58,99.1],[82.72,94.8],[82.87,84.0],[83.01,74.1],[83.15,75.0],[83.29,75.8],[83.50,70.0],[83.72,63.7],
[83.90,72.0],[84.08,79.2],[84.22,75.0],[84.37,68.9],[84.55,55.0],[84.73,41.2],[84.90,43.0],[85.08,45.5],[85.30,52.0],[85.51,57.6],
[85.65,58.5],[85.80,58.5],[85.92,52.0],[86.05,44.6],[86.28,38.0],[86.52,32.5],[86.70,28.0],[86.88,24.7],[87.00,28.0],[87.12,34.3],
[87.30,40.0],[87.48,43.8],[87.60,41.0],[87.73,37.7],[87.87,40.0],[88.02,41.2],[88.16,38.0],[88.31,34.3],[88.48,31.0],[88.66,29.1],
[88.88,32.0],[89.09,35.1],[89.27,32.0],[89.45,29.1],[89.66,31.0],[89.88,32.9],[90.02,31.0],[90.17,28.2],[90.31,25.5],[90.45,23.0],
[90.58,24.5],[90.71,25.6],[90.84,24.0],[90.96,23.0],[91.10,27.0],[91.24,33.4],[91.42,44.0],[91.60,53.3],[91.82,59.0],[92.03,64.5],
[92.17,58.0],[92.32,51.6],[92.50,60.0],[92.67,65.7],[92.85,64.5],[92.97,59.0],[93.10,53.3],[93.21,48.0],[93.32,44.6],[93.45,45.5],
[93.57,46.4],[93.75,42.0],[93.93,39.8],[94.05,41.5],[94.18,42.0],[94.32,40.0],[94.46,39.4],[94.64,38.0],[94.82,36.9],[95.00,36.0],
[95.18,35.1],[95.36,34.2],[95.54,33.4],[95.72,33.0],[95.90,32.5],[96.07,30.0],[96.25,27.3],[96.43,27.8],[96.61,28.2],[96.82,29.0],
[97.04,29.9],[97.22,28.0],[97.40,25.6],[97.64,21.0],[97.87,17.8],[98.10,16.8],[98.33,16.1],[98.63,16.8],[98.94,17.3],[99.21,16.0],
[99.48,15.2],[99.75,12.5],[100.01,10.0],[100.28,9.6],[100.55,9.2],[100.82,9.8],[101.09,10.4],[101.36,8.0],[101.63,5.7],[101.80,6.5],
[101.98,7.4],[102.16,6.5],[102.34,5.7],[102.52,6.5],[102.70,7.4],[102.88,5.5],[103.06,4.0],[103.24,7.5],[103.42,7.0],[103.60,6.0],
[103.78,5.7],[103.95,6.5],[104.13,6.9],[104.31,6.0],[104.49,5.6],[104.67,6.2],[104.85,6.0],[105.03,5.4],[105.21,5.8],[105.38,5.2],
[105.56,5.7],[105.74,5.0],[105.92,5.8],[106.10,6.2],[106.28,6.6],[106.46,5.2],[106.64,4.0],[106.82,4.8],[106.99,5.4],[107.17,5.0],
[107.35,5.6],[107.53,6.2],[107.71,6.6],[107.89,7.8],[108.07,9.2],[108.25,7.5],[108.43,6.6],[108.61,5.8],[108.79,5.4],[108.97,5.2],
[109.14,5.6],[109.32,5.0],[109.50,4.6],[109.68,5.0],[109.86,5.4],[110.04,5.0],[110.22,5.8],[110.40,5.7],[110.58,6.6],[110.75,7.4],
[110.93,8.0],[111.11,6.5],[111.29,4.9],[111.47,6.0],[111.65,8.0],[111.83,10.0],[112.01,12.5],[112.19,14.5],[112.37,15.2],[112.55,15.0],
[112.72,14.4],[112.90,12.5],[113.08,11.5],[113.15,10.9],[113.30,7.0],[113.44,6.6],[113.62,9.5],[113.80,11.8],[113.98,8.0],[114.16,6.6],
[114.34,9.5],[114.52,11.8],[114.70,10.0],[114.87,9.2],[115.05,7.5],[115.30,8.3],[115.50,6.5],[115.77,4.9],[115.95,5.6],[116.13,6.2],
[116.30,6.0],[116.48,6.9],[116.66,6.4],[116.84,6.0],[117.02,6.2],[117.20,5.8],[117.38,6.4],[117.56,6.0],[117.74,6.6],[117.92,6.8],
[118.10,7.2],[118.27,7.0],[118.45,7.5],[118.63,8.2],[118.81,8.8],[118.99,9.2],[119.17,8.6],[119.35,8.3],[119.53,8.8],[119.71,9.4],
[119.89,10.0],[120.07,12.0],[120.24,14.4],[120.42,13.6],[120.60,12.6],[120.78,10.8],[120.96,9.2],[121.14,9.6],[121.32,9.2],[121.50,8.0],
[121.68,7.5],[121.86,6.0],[122.03,4.9],[122.21,7.5],[122.39,9.2],[122.60,12.0],[122.82,14.4],[123.05,15.2],[123.29,16.1],[123.47,18.0],
[123.65,20.4],[123.78,23.0],[123.90,25.6],[124.00,27.5],[124.11,29.4],[124.23,27.5],[124.36,24.7],[124.48,21.0],[124.61,17.8],[124.75,17.2],
[124.90,17.0],[125.08,16.0],[125.26,15.2],[125.44,14.2],[125.61,13.4],[125.79,13.5],[125.97,12.8],[126.15,12.6],[126.33,11.5],[126.51,10.9],
[126.69,10.2],[126.87,9.2],[127.05,8.6],[127.22,8.0],[127.40,7.5],[127.58,6.6],[127.76,6.2],[127.94,5.7],[128.12,6.2],[128.30,6.6],
[128.48,6.4],[128.66,7.2],[128.84,8.0],[129.02,9.2],[129.19,7.5],[129.37,5.7],[129.55,6.2],[129.73,6.8],[129.91,6.4],[130.09,7.0],
[130.27,7.6],[130.45,8.3],[130.62,7.0],[130.80,6.0],[130.99,5.7],[131.16,6.2],[131.34,6.6],[131.52,6.0],[131.70,5.4],[131.88,5.0],
[132.06,4.9],[132.24,4.6],[132.42,4.2],[132.59,4.5],[132.77,4.0],[132.95,4.6],[133.13,5.2],[133.31,5.6],[133.49,5.7],[133.67,4.8],
[133.85,4.0],[134.03,3.1],[134.20,3.6],[134.40,4.0]
];

// Trace and label colours
const traceColors = ['#222222', '#a11f1f', '#3e9e3e'];
const ticColors = ['#111111', '#8c1414', '#1f8f1f'];

const axisGray = '#8a8a8a';
const tickFont = { family: '"Liberation Sans", Arial, sans-serif', size: 20, lineHeight: 1 };

// Draws the fragmentation caption, TIC value and other free text on a panel
const panelText = {
  id: 'panelText',
  afterDraw(chart, args, opts) {
    const ctx = chart.ctx;
    (opts.items || []).forEach(it => {
      ctx.save();
      ctx.font = it.font;
      ctx.fillStyle = it.color;
      ctx.textAlign = it.align;
      ctx.textBaseline = 'middle';
      ctx.fillText(it.text, it.x, it.y);
      ctx.restore();
    });
  }
};

function toPoints(trace) {
  return trace.map(([t, v]) => ({ x: t, y: v }));
}

function makePanel(canvasId, cfg) {
  const isBottom = cfg.bottomAxis;
  return new Chart(document.getElementById(canvasId), {
    type: 'line',
    data: {
      datasets: [{
        label: cfg.name,
        data: toPoints(cfg.trace),
        borderColor: cfg.color,
        borderWidth: 1,
        pointRadius: 0,
        fill: false,
        cubicInterpolationMode: 'monotone',
        clip: 4
      }]
    },
    options: {
      responsive: false,
      animation: false,
      events: [],
      layout: { padding: cfg.padding },
      plugins: {
        legend: { display: false },
        tooltip: { enabled: false },
        panelText: { items: cfg.texts }
      },
      scales: {
        x: {
          type: 'linear',
          bounds: 'data',
          min: timeMin,
          max: timeMax,
          afterFit: (s) => { s.height = isBottom ? 34 : 0; },
          border: { display: true, color: axisGray, width: 1 },
          grid: {
            display: true,
            drawOnChartArea: false,
            drawTicks: isBottom,
            tickLength: 6,
            tickColor: (c) => (c.tick && Number.isInteger(c.tick.value)) ? axisGray : 'rgba(0,0,0,0)'
          },
          ticks: {
            display: isBottom,
            stepSize: 1,
            autoSkip: false,
            includeBounds: false,
            maxRotation: 0,
            padding: 7,
            color: '#111111',
            font: { family: '"Liberation Sans", Arial, sans-serif', size: 20, lineHeight: 1.2 },
            callback: (v) => timeTickLabels.includes(v) ? String(v) : ''
          }
        },
        y: {
          min: 0,
          max: 100,
          afterFit: (s) => { s.width = 77; },
          border: { display: true, color: axisGray, width: 1 },
          grid: {
            display: true,
            drawOnChartArea: false,
            tickLength: 7,
            tickColor: axisGray
          },
          title: {
            display: !!cfg.yTitle,
            text: cfg.yTitle || '',
            color: '#111111',
            font: { family: '"Liberation Sans", Arial, sans-serif', size: 23 },
            padding: { top: 7, bottom: 0 }
          },
          ticks: {
            stepSize: 5,
            autoSkip: false,
            padding: 4,
            labelOffset: 4,
            color: '#111111',
            font: tickFont,
            callback: (v) => cfg.yLabels.includes(v) ? String(v) : ''
          }
        }
      }
    },
    plugins: [panelText]
  });
}

const captionFont = '26px Lato, "Open Sans", sans-serif';
const ticFont = '20px "Liberation Sans", Arial, sans-serif';

makePanel('hcdChart', {
  name: fragmentationNames[0],
  trace: hcdTrace,
  color: traceColors[0],
  yLabels: hcdAbundanceLabels,
  padding: { top: 30, bottom: 18, left: 0, right: 0 },
  texts: [
    { text: fragmentationNames[0], x: 297, y: 28, font: captionFont, color: '#000000', align: 'left' },
    { text: ticValues[0], x: 1222, y: 28, font: ticFont, color: ticColors[0], align: 'right' }
  ]
});

makePanel('ethcdChart', {
  name: fragmentationNames[1],
  trace: ethcdTrace,
  color: traceColors[1],
  yLabels: ethcdAbundanceLabels,
  yTitle: 'Relative Abundance',
  padding: { top: 23, bottom: 25, left: 0, right: 0 },
  texts: [
    { text: fragmentationNames[1], x: 301, y: 71, font: captionFont, color: '#000000', align: 'left' },
    { text: ticValues[1], x: 1218, y: 44, font: ticFont, color: ticColors[1], align: 'right' }
  ]
});

makePanel('uvpdChart', {
  name: fragmentationNames[2],
  trace: uvpdTrace,
  color: traceColors[2],
  yLabels: uvpdAbundanceLabels,
  bottomAxis: true,
  padding: { top: 10, bottom: 25, left: 0, right: 0 },
  texts: [
    { text: fragmentationNames[2], x: 301, y: 51, font: captionFont, color: '#000000', align: 'left' },
    { text: ticValues[2], x: 1220, y: 42, font: ticFont, color: ticColors[2], align: 'right' },
    { text: 'Time (min)', x: 641, y: 252, font: '20px "Liberation Sans", Arial, sans-serif', color: '#111111', align: 'center' }
  ]
});
</script>
</body>
</html>
